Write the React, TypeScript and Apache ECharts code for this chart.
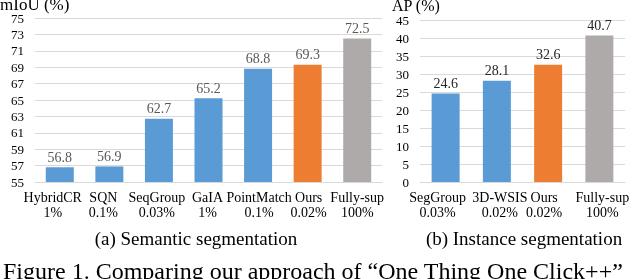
import React, { useEffect, useRef } from "react";
import * as echarts from "echarts";

const semMethods = ["HybridCR", "SQN", "SeqGroup", "GaIA", "PointMatch", "Ours", "Fully-sup"];
const semRatios = ["1%", "0.1%", "0.03%", "1%", "0.1%", "0.02%", "100%"];
const semValues = [56.8, 56.9, 62.7, 65.2, 68.8, 69.3, 72.5];
const semColors = ["#5B9BD5", "#5B9BD5", "#5B9BD5", "#5B9BD5", "#5B9BD5", "#ED7D31", "#AEAAAA"];
const semLabelShift = [-7, -6, -2, -1, 1, 1, 0];

const insMethods = ["SegGroup", "3D-WSIS", "Ours", "Fully-sup"];
const insRatios = ["0.03%", "0.02%", "0.02%", "100%"];
const insValues = [24.6, 28.1, 32.6, 40.7];
const insColors = ["#5B9BD5", "#5B9BD5", "#ED7D31", "#AEAAAA"];
const insLabelShift = [-8, 3, -4, 3];

const FONT = "Liberation Serif";

function cat(name: string, ratio: string, shift: number) {
  const pad = Math.abs(shift) * 2;
  return {
    value: name + "\n" + ratio,
    textStyle: { padding: shift < 0 ? [0, pad, 0, 0] : [0, 0, 0, pad] },
  };
}

export default function App() {
  const ref = useRef<HTMLDivElement>(null);
  useEffect(() => {
    document.body.style.margin = "0";
    const chart = echarts.init(ref.current!, null, { renderer: "svg" });
    const xAxisCommon = {
      type: "category" as const,
      axisTick: { show: false },
      axisLine: { lineStyle: { color: "#D9D9D9", width: 1 } },
      axisLabel: {
        fontFamily: FONT,
        fontSize: 14,
        color: "#000",
        lineHeight: 15,
        margin: 8,
        interval: 0,
      },
    };
    const yAxisCommon = {
      type: "value" as const,
      axisLine: { show: false },
      axisTick: { show: false },
      splitLine: { lineStyle: { color: "#D9D9D9", width: 1 } },
      axisLabel: { fontFamily: FONT, fontSize: 13, color: "#000", margin: 11 },
    };
    chart.setOption({
      animation: false,
      grid: [
        { left: 35, right: 258, top: 18, bottom: 97 },
        { left: 420, right: 15, top: 20, bottom: 97 },
      ],
      xAxis: [
        {
          ...xAxisCommon,
          gridIndex: 0,
          data: semMethods.map((m, i) => cat(m, semRatios[i], semLabelShift[i])),
        },
        {
          ...xAxisCommon,
          gridIndex: 1,
          data: insMethods.map((m, i) => cat(m, insRatios[i], insLabelShift[i])),
        },
      ],
      yAxis: [
        { ...yAxisCommon, gridIndex: 0, min: 55, max: 75, interval: 2 },
        { ...yAxisCommon, gridIndex: 1, min: 0, max: 45, interval: 5 },
      ],
      series: [
        {
          type: "bar",
          xAxisIndex: 0,
          yAxisIndex: 0,
          barWidth: 28,
          data: semValues.map((v, i) => ({ value: v, itemStyle: { color: semColors[i] } })),
          label: {
            show: true,
            position: "top",
            distance: 3,
            fontFamily: FONT,
            fontSize: 14,
            color: "#595959",
            formatter: (p: any) => p.value.toFixed(1),
          },
        },
        {
          type: "bar",
          xAxisIndex: 1,
          yAxisIndex: 1,
          barWidth: 28,
          data: insValues.map((v, i) => ({ value: v, itemStyle: { color: insColors[i] } })),
          label: {
            show: true,
            position: "top",
            distance: 3,
            fontFamily: FONT,
            fontSize: 14,
            color: "#262626",
            formatter: (p: any) => p.value.toFixed(1),
          },
        },
      ],
      graphic: [
        {
          type: "text",
          left: 0,
          top: -4,
          style: { text: "mIoU (%)", fontFamily: FONT, fontSize: 17, fill: "#000" },
        },
        {
          type: "text",
          left: 392,
          top: -3,
          style: { text: "AP (%)", fontFamily: FONT, fontSize: 16, fill: "#000" },
        },
        {
          type: "text",
          x: 196,
          y: 238,
          style: {
            text: "(a) Semantic segmentation",
            fontFamily: FONT,
            fontSize: 19,
            fill: "#000",
            align: "center",
            verticalAlign: "middle",
          },
        },
        {
          type: "text",
          x: 524,
          y: 238,
          style: {
            text: "(b) Instance segmentation",
            fontFamily: FONT,
            fontSize: 19,
            fill: "#000",
            align: "center",
            verticalAlign: "middle",
          },
        },
        {
          type: "text",
          x: 3,
          y: 271,
          style: {
            text: "Figure 1. Comparing our approach of \u201cOne Thing One Click++\u201d",
            fontFamily: FONT,
            fontSize: 24,
            fill: "#000",
            align: "left",
            verticalAlign: "middle",
          },
        },
      ],
    });
    return () => chart.dispose();
  }, []);
  return (
    <div
      ref={ref}
      style={{ position: "fixed", left: 0, top: 0, width: 640, height: 279 }}
    />
  );
}
